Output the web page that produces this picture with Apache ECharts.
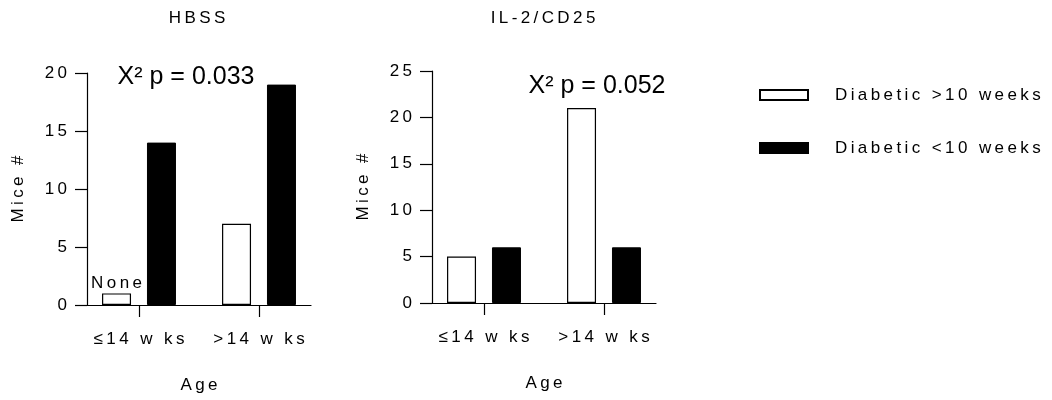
<!DOCTYPE html>
<html><head><meta charset="utf-8">
<script src="https://cdn.jsdelivr.net/npm/echarts@6/dist/echarts.min.js"></script>
<style>html,body{margin:0;padding:0;background:#fff}#c{width:1052px;height:400px}</style>
</head><body><div id="c"></div>
<script>
// ---- data ----
const panelTitles = ['HBSS', 'IL-2/CD25'];
const categories = ['≤14 w ks', '>14 w ks'];
const seriesNames = ['Diabetic >10 weeks', 'Diabetic <10 weeks'];
const hbssOver10 = [1, 7];
const hbssUnder10 = [14, 19];
const il2Over10 = [5, 21];
const il2Under10 = [6, 6];
const yMaxes = [20, 25];
const yStep = 5;
const pLabels = ['X² p = 0.033', 'X² p = 0.052'];
const noneLabel = 'None';
const yAxisName = 'Mice #';
const xAxisName = 'Age';

// ---- helpers ----
const FONT = 'Liberation Sans, Arial, sans-serif';
const sp = s => Array.from(s).join('\u2009');
const lefts = [87, 432];
const tops = [73, 71];

const chart = echarts.init(document.getElementById('c'), null, {renderer: 'canvas'});

const grids = [0, 1].map(i => ({left: lefts[i], top: tops[i], width: 224, height: 232}));
const xAxes = [0, 1].map(i => ({
  type: 'value', gridIndex: i, min: -0.4333, max: 1.4333,
  splitLine: {show: false},
  axisLine: {show: true, onZero: false, lineStyle: {color: '#000', width: 1.2}},
  axisTick: {show: true, customValues: [0, 1], length: 12, lineStyle: {color: '#000', width: 1.2}},
  axisLabel: {customValues: [0, 1], margin: 26, color: '#000', fontFamily: FONT, fontSize: 17,
    formatter: v => sp(categories[Math.round(v)])},
  name: sp(xAxisName), nameLocation: 'middle', nameGap: 72,
  nameTextStyle: {color: '#000', fontFamily: FONT, fontSize: 17}
}));
const yAxes = [0, 1].map(i => ({
  type: 'value', gridIndex: i, min: 0, max: yMaxes[i], interval: yStep,
  splitLine: {show: false},
  axisLine: {show: true, onZero: false, lineStyle: {color: '#000', width: 1.2}},
  axisTick: {show: true, length: 12, lineStyle: {color: '#000', width: 1.2}},
  axisLabel: {margin: 20, color: '#000', fontFamily: FONT, fontSize: 17, formatter: v => sp(String(v))},
  name: sp(yAxisName), nameLocation: 'middle', nameGap: 60, nameRotate: 90,
  nameTextStyle: {color: '#000', fontFamily: FONT, fontSize: 17}
}));

const whiteStyle = {color: '#fff', borderColor: '#000', borderWidth: 1.2};
const blackStyle = {color: '#000', borderColor: '#000', borderWidth: 1};
const toPts = arr => arr.map((v, i) => [i, v]);

const hbssWhite = toPts(hbssOver10).map((p, i) => i === 0
  ? {value: p, label: {show: true, position: 'top', distance: 2, formatter: sp(noneLabel),
      color: '#000', fontFamily: FONT, fontSize: 17}}
  : {value: p});

const barCommon = {type: 'bar', barWidth: 29, barGap: '55%'};
const series = [
  Object.assign({name: seriesNames[0], xAxisIndex: 0, yAxisIndex: 0, itemStyle: whiteStyle, data: hbssWhite}, barCommon),
  Object.assign({name: seriesNames[1], xAxisIndex: 0, yAxisIndex: 0, itemStyle: blackStyle, data: toPts(hbssUnder10)}, barCommon),
  Object.assign({name: seriesNames[0], xAxisIndex: 1, yAxisIndex: 1, itemStyle: whiteStyle, data: toPts(il2Over10)}, barCommon),
  Object.assign({name: seriesNames[1], xAxisIndex: 1, yAxisIndex: 1, itemStyle: blackStyle, data: toPts(il2Under10)}, barCommon)
];

const option = {
  backgroundColor: '#fff',
  animation: false,
  title: [0, 1].map(i => ({
    text: sp(panelTitles[i]), left: [197, 543][i], top: 10, textAlign: 'center', padding: 0,
    textStyle: {color: '#000', fontFamily: FONT, fontSize: 17, fontWeight: 'normal'}
  })),
  graphic: [
    {type: 'text', x: 186, y: 77, style: {text: pLabels[0], fill: '#000', font: '25px ' + FONT, textAlign: 'center', textVerticalAlign: 'middle'}},
    {type: 'text', x: 597, y: 86, style: {text: pLabels[1], fill: '#000', font: '25px ' + FONT, textAlign: 'center', textVerticalAlign: 'middle'}}
  ],
  legend: {
    orient: 'vertical', left: 759, top: 85, padding: 0, itemWidth: 48, itemHeight: 10, itemGap: 33,
    icon: 'rect', data: seriesNames,
    textStyle: {color: '#000', fontFamily: FONT, fontSize: 17, lineHeight: 20, padding: [0, 0, 0, 22]},
    formatter: n => sp(n)
  },
  grid: grids, xAxis: xAxes, yAxis: yAxes, series: series
};
chart.setOption(option);
</script></body></html>
